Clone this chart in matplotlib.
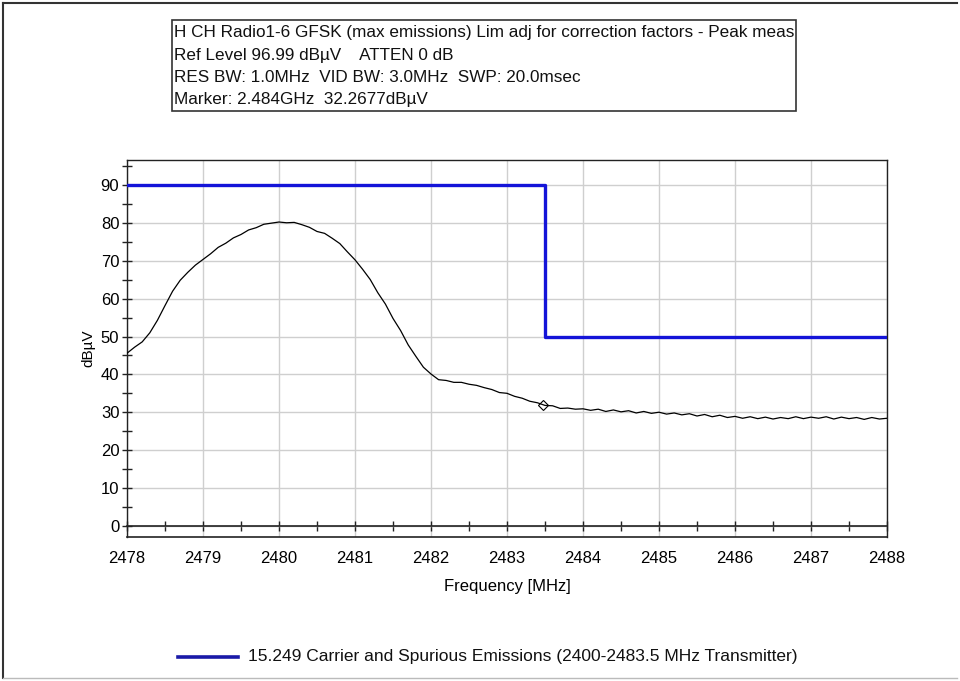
import matplotlib
matplotlib.use("Agg")
import matplotlib.pyplot as plt
from matplotlib import font_manager as fm
from matplotlib.lines import Line2D
from matplotlib.patches import Rectangle
import numpy as np

# ---------------- data ----------------
freq_start = 2478.0
freq_step = 0.1
trace_dbuv = [
    45.6, 47.2, 48.6, 51.0, 54.3, 58.2, 62.0, 64.9, 67.0, 68.9,
    70.4, 71.9, 73.6, 74.7, 76.1, 77.0, 78.2, 78.8, 79.7, 80.0,
    80.3, 80.1, 80.2, 79.6, 78.9, 77.8, 77.3, 76.0, 74.6, 72.4,
    70.3, 67.8, 65.1, 61.6, 58.6, 54.8, 51.6, 47.8, 44.8, 41.9,
    40.1, 38.6, 38.4, 37.9, 37.9, 37.4, 37.1, 36.5, 36.0, 35.2,
    35.0, 34.2, 33.7, 32.9, 32.5, 31.8, 31.7, 31.0, 31.1, 30.8,
    30.9, 30.5, 30.8, 30.2, 30.6, 30.1, 30.4, 29.8, 30.2, 29.7,
    30.0, 29.5, 29.8, 29.3, 29.6, 29.0, 29.4, 28.8, 29.2, 28.6,
    28.9, 28.4, 28.8, 28.3, 28.7, 28.2, 28.6, 28.3, 28.8, 28.3,
    28.7, 28.4, 28.8, 28.2, 28.7, 28.3, 28.6, 28.1, 28.6, 28.2,
    28.4,
]
limit_freq = [2478.0, 2483.5, 2483.5, 2488.0]
limit_dbuv = [90.0, 90.0, 50.0, 50.0]
marker_freq = 2483.48
marker_dbuv = 31.8
x_ticks = [2478, 2479, 2480, 2481, 2482, 2483, 2484, 2485, 2486, 2487, 2488]
y_ticks = [0, 10, 20, 30, 40, 50, 60, 70, 80, 90]
header_lines = [
    "H CH Radio1-6 GFSK (max emissions) Lim adj for correction factors - Peak meas",
    "Ref Level 96.99 dB\u00b5V    ATTEN 0 dB",
    "RES BW: 1.0MHz  VID BW: 3.0MHz  SWP: 20.0msec",
    "Marker: 2.484GHz  32.2677dB\u00b5V",
]
legend_label = "15.249 Carrier and Spurious Emissions (2400-2483.5 MHz Transmitter)"

regular = ["Liberation Sans", "DejaVu Sans"]

freqs = freq_start + freq_step * np.arange(len(trace_dbuv))

fig = plt.figure(figsize=(9.6, 6.81), dpi=100)
W, H = 960, 681
def fx(px): return px / W
def fy(py): return 1 - py / H

ax = fig.add_axes([fx(127), fy(537), (887 - 127) / W, (537 - 160) / H])
ax.set_xlim(2478, 2488)
ax.set_ylim(-3.0, 96.7)

ax.grid(True, which="major", color="#cfcfcf", linewidth=1.0)
ax.set_axisbelow(True)

ax.plot(freqs, trace_dbuv, color="black", linewidth=0.9, zorder=3)
ax.plot(limit_freq, limit_dbuv, color="#1414d8", linewidth=2.4, zorder=4,
        solid_joinstyle="round")
ax.plot([marker_freq], [marker_dbuv], marker="D", markersize=5, markerfacecolor="none",
        markeredgecolor="black", markeredgewidth=0.8, zorder=5)

# spines
for s in ["top", "right", "left"]:
    ax.spines[s].set_color("#222222")
    ax.spines[s].set_linewidth(1.0)
ax.spines["bottom"].set_position(("data", 0))
ax.spines["bottom"].set_color("#222222")
ax.spines["bottom"].set_linewidth(1.2)
ax.add_line(Line2D([0, 1], [0, 0], transform=ax.transAxes, color="#222222",
                   linewidth=1.2, clip_on=False))

ax.set_xticks(x_ticks)
ax.set_xticks(np.arange(2478.5, 2488, 1.0), minor=True)
ax.set_yticks(y_ticks)
ax.set_yticks(np.arange(5, 96, 10), minor=True)
fs = 12
ax.set_xticklabels([str(t) for t in x_ticks], family=regular, fontsize=fs)
ax.set_yticklabels([str(t) for t in y_ticks], family=regular, fontsize=fs)
ax.tick_params(axis="both", which="both", direction="inout", length=7, width=1.0,
               color="#222222")
ax.tick_params(axis="x", which="both", pad=15)
ax.tick_params(axis="y", which="both", pad=2)

ax.set_xlabel("Frequency [MHz]", family=regular, fontsize=fs, labelpad=9)
ax.set_ylabel("dB\u00b5V", family=regular, fontsize=11, labelpad=4)

# header box
fig.add_artist(Rectangle((fx(172), fy(111)), (796 - 172) / W, (111 - 20) / H,
                         transform=fig.transFigure, fill=False,
                         edgecolor="#333333", linewidth=1.2))
for i, line in enumerate(header_lines):
    fig.text(fx(174), fy(33 + i * 22.3), line, family=regular, fontsize=12.3,
             ha="left", va="center", color="#111111")

# legend
fig.add_artist(Line2D([fx(178), fx(238)], [fy(657), fy(657)], transform=fig.transFigure,
                      color="#1a1aa8", linewidth=2.6))
fig.text(fx(248), fy(657), legend_label, family=regular, fontsize=12.5, ha="left",
         va="center", color="#111111")

# outer frame
fig.add_artist(Line2D([fx(3), fx(3)], [fy(3), fy(678)], transform=fig.transFigure,
                      color="#333333", linewidth=1.5))
fig.add_artist(Line2D([fx(3), fx(957)], [fy(3), fy(3)], transform=fig.transFigure,
                      color="#333333", linewidth=1.5))
fig.add_artist(Line2D([fx(3), fx(957)], [fy(678), fy(678)], transform=fig.transFigure,
                      color="#bbbbbb", linewidth=1.0))

fig.savefig("out.png", dpi=100, facecolor="white")
